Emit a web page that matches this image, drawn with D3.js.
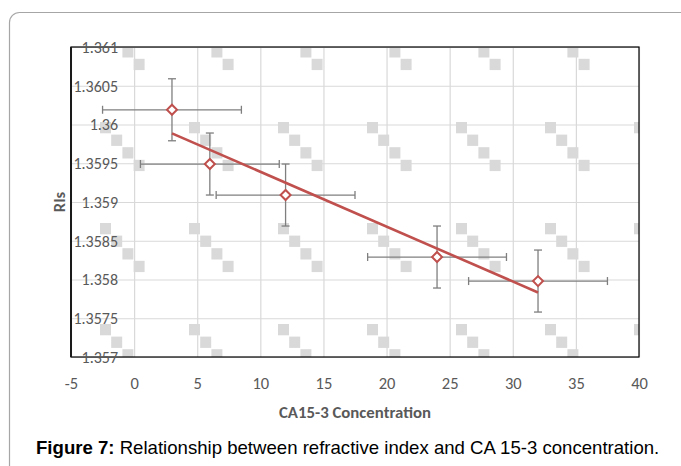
<!DOCTYPE html>
<html><head><meta charset="utf-8">
<script src="https://cdn.jsdelivr.net/npm/d3@7"></script>
<style>
body{margin:0;background:#fff;}
svg{display:block;}
</style></head><body>
<svg id="chart" width="681" height="466"></svg>
<script>
// ---- data ----
const concentration = [3, 6, 12, 24, 32];
const refractiveIndex = [1.36019, 1.35949, 1.35909, 1.35829, 1.35798];
const concentrationError = [5.5, 5.5, 5.5, 5.5, 5.5];
const riError = [0.0004, 0.0004, 0.0004, 0.0004, 0.0004];
const xTicks = [-5, 0, 5, 10, 15, 20, 25, 30, 35, 40];
const xTickLabels = ["-5", "0", "5", "10", "15", "20", "25", "30", "35", "40"];
const yTicks = [1.357, 1.3575, 1.358, 1.3585, 1.359, 1.3595, 1.36, 1.3605, 1.361];
const yTickLabels = ["1.357", "1.3575", "1.358", "1.3585", "1.359", "1.3595", "1.36", "1.3605", "1.361"];
const xTitle = "CA15-3 Concentration";
const yTitle = "RIs";
const captionBold = "Figure 7:";
const captionText = " Relationship between refractive index and CA 15-3 concentration.";

// ---- layout ----
const W = 681, H = 466;
const L = 71, R = 639, T = 47, B = 357;
const chartFont = "Carlito, Lato, 'Open Sans', sans-serif";
const labelColor = "#595959";
const gridColor = "#d9d9d9";
const red = "#c0504d";
const errColor = "#7f7f7f";

const svg = d3.select("#chart");
svg.append("rect").attr("width", W).attr("height", H).attr("fill", "#fff");

// outer rounded frame
svg.append("rect").attr("x", 9.5).attr("y", 12.5).attr("width", 720).attr("height", 520)
  .attr("rx", 10).attr("fill", "none").attr("stroke", "#a6a6a6").attr("stroke-width", 1.2);

const x = d3.scaleLinear().domain([xTicks[0], xTicks[xTicks.length - 1]]).range([L, R]);
const y = d3.scaleLinear().domain([yTicks[0], yTicks[yTicks.length - 1]]).range([B, T]);

// pattern background
const defs = svg.append("defs");
const pat = defs.append("pattern").attr("id", "dots").attr("patternUnits", "userSpaceOnUse")
  .attr("x", 100).attr("y", 122).attr("width", 89).attr("height", 101);
[0, 1, 2, 3].forEach(i => {
  pat.append("rect").attr("x", i * 11.2).attr("y", i * 12.6).attr("width", 11).attr("height", 11.3)
    .attr("fill", gridColor);
});
defs.append("clipPath").attr("id", "plotClip").append("rect")
  .attr("x", L).attr("y", T).attr("width", R - L).attr("height", B - T);

svg.append("rect").attr("x", L).attr("y", T).attr("width", R - L).attr("height", B - T)
  .attr("fill", "url(#dots)");

// gridlines
const gx = svg.append("g").attr("transform", `translate(0,${B})`)
  .call(d3.axisBottom(x).tickValues(xTicks).tickSize(-(B - T)).tickFormat(""));
gx.select(".domain").remove();
gx.selectAll("line").attr("stroke", gridColor).attr("stroke-width", 1.2);
const gy = svg.append("g").attr("transform", `translate(${L},0)`)
  .call(d3.axisRight(y).tickValues(yTicks).tickSize(R - L).tickFormat(""));
gy.select(".domain").remove();
gy.selectAll("line").attr("stroke", gridColor).attr("stroke-width", 1.2);

// frame
svg.append("rect").attr("x", L).attr("y", T).attr("width", R - L).attr("height", B - T)
  .attr("fill", "none").attr("stroke", "#000").attr("stroke-width", 1.2);
svg.append("line").attr("x1", L).attr("x2", L).attr("y1", T).attr("y2", B)
  .attr("stroke", "#1a1a1a").attr("stroke-width", 2);

// y tick labels (inside plot, right aligned)
const ay = svg.append("g").attr("transform", `translate(${L},0)`)
  .call(d3.axisRight(y).tickValues(yTicks).tickSize(0).tickFormat((d, i) => yTickLabels[i]));
ay.select(".domain").remove();
ay.selectAll("text").attr("x", 47).attr("text-anchor", "end").attr("dy", "0.34em")
  .attr("fill", labelColor).style("font-family", chartFont).style("font-size", "16px");

// x tick labels
const ax = svg.append("g").attr("transform", `translate(0,${B})`)
  .call(d3.axisBottom(x).tickValues(xTicks).tickSize(0).tickFormat((d, i) => xTickLabels[i]));
ax.select(".domain").remove();
ax.selectAll("text").attr("y", 32).attr("dy", "0").attr("fill", labelColor)
  .style("font-family", chartFont).style("font-size", "16.5px");

// axis titles
svg.append("text").attr("x", (L + R) / 2).attr("y", 418).attr("text-anchor", "middle")
  .attr("fill", labelColor).style("font-family", chartFont).style("font-size", "16.8px")
  .style("font-weight", "bold").text(xTitle);
svg.append("text").attr("transform", `translate(64.5,${(T + B) / 2}) rotate(-90)`)
  .attr("text-anchor", "middle").attr("fill", labelColor).style("font-family", chartFont)
  .style("font-size", "16.5px").style("font-weight", "bold").text(yTitle);

// data
const pts = concentration.map((c, i) => ({ c, r: refractiveIndex[i], ce: concentrationError[i], re: riError[i] }));
const plot = svg.append("g").attr("clip-path", "url(#plotClip)");

// error bars
const eb = plot.append("g").attr("stroke", errColor).attr("stroke-width", 1.3).attr("fill", "none");
pts.forEach(p => {
  const cx = x(p.c), cy = y(p.r);
  const x0 = x(p.c - p.ce), x1 = x(p.c + p.ce), y0 = y(p.r - p.re), y1 = y(p.r + p.re);
  eb.append("line").attr("x1", x0).attr("x2", x1).attr("y1", cy).attr("y2", cy);
  eb.append("line").attr("x1", x0).attr("x2", x0).attr("y1", cy - 4).attr("y2", cy + 4);
  eb.append("line").attr("x1", x1).attr("x2", x1).attr("y1", cy - 4).attr("y2", cy + 4);
  eb.append("line").attr("x1", cx).attr("x2", cx).attr("y1", y0).attr("y2", y1);
  eb.append("line").attr("x1", cx - 4).attr("x2", cx + 4).attr("y1", y0).attr("y2", y0);
  eb.append("line").attr("x1", cx - 4).attr("x2", cx + 4).attr("y1", y1).attr("y2", y1);
});

// markers
const sym = d3.symbol().type(d3.symbolSquare).size(50);
plot.append("g").selectAll("path").data(pts).join("path")
  .attr("d", sym)
  .attr("transform", d => `translate(${x(d.c)},${y(d.r)}) rotate(45)`)
  .attr("fill", "#fff").attr("stroke", red).attr("stroke-width", 2);

// linear trendline (least squares)
const mx = d3.mean(concentration), my = d3.mean(refractiveIndex);
const slope = d3.sum(pts, p => (p.c - mx) * (p.r - my)) / d3.sum(pts, p => (p.c - mx) ** 2);
const icpt = my - slope * mx;
const xmin = d3.min(concentration), xmax = d3.max(concentration);
plot.append("line")
  .attr("x1", x(xmin)).attr("y1", y(icpt + slope * xmin))
  .attr("x2", x(xmax)).attr("y2", y(icpt + slope * xmax))
  .attr("stroke", red).attr("stroke-width", 2.6);

// caption
const cap = svg.append("text").attr("x", 36).attr("y", 454)
  .style("font-family", "'Liberation Sans', Arial, sans-serif").style("font-size", "18.6px").attr("fill", "#000");
cap.append("tspan").style("font-weight", "bold").text(captionBold);
cap.append("tspan").text(captionText);
</script>
</body></html>
